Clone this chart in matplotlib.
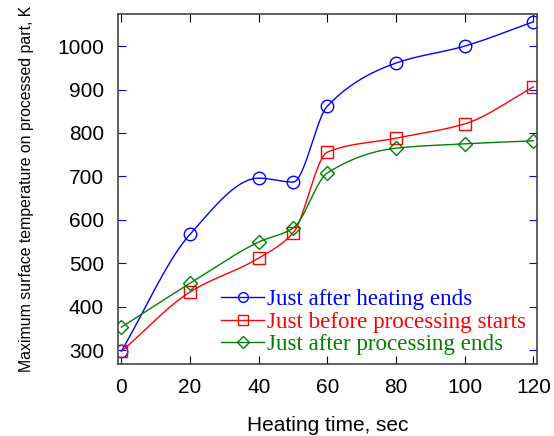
import numpy as np
import matplotlib
matplotlib.use("Agg")
import matplotlib.pyplot as plt

# heating time, sec
time = [0, 20, 40, 50, 60, 80, 100, 120]
after_heating = [298, 567, 696, 687, 862, 961, 1000, 1056]
before_processing = [297, 434, 512, 570, 756, 788, 821, 906]
after_processing = [353, 454, 549, 581, 708, 765, 775, 782]


def smooth(x, y, n=300):
    # monotone cubic (pchip) curve, only for drawing the line
    x = np.asarray(x, float)
    y = np.asarray(y, float)
    h = np.diff(x)
    d = np.diff(y) / h
    m = np.zeros_like(y)
    for i in range(1, len(x) - 1):
        if d[i - 1] * d[i] > 0:
            w1 = 2 * h[i] + h[i - 1]
            w2 = h[i] + 2 * h[i - 1]
            m[i] = (w1 + w2) / (w1 / d[i - 1] + w2 / d[i])
    m[0] = d[0]
    m[-1] = d[-1]
    xs = np.linspace(x[0], x[-1], n)
    j = np.clip(np.searchsorted(x, xs) - 1, 0, len(x) - 2)
    t = (xs - x[j]) / h[j]
    h00 = 2 * t**3 - 3 * t**2 + 1
    h10 = t**3 - 2 * t**2 + t
    h01 = -2 * t**3 + 3 * t**2
    h11 = t**3 - t**2
    ys = h00 * y[j] + h10 * h[j] * m[j] + h01 * y[j + 1] + h11 * h[j] * m[j + 1]
    return xs, ys


plt.rcParams["font.family"] = ["Liberation Sans", "DejaVu Sans"]

fig = plt.figure(figsize=(5.54, 4.36), dpi=100)
ax = fig.add_axes([0.213, 0.165, 0.756, 0.803])

series = [
    (after_heating, "blue", "o", "Just after heating ends"),
    (before_processing, "red", "s", "Just before processing starts"),
    (after_processing, "green", "D", "Just after processing ends"),
]
handles = []
for vals, c, m, lab in series:
    xs, ys = smooth(time, vals)
    ax.plot(xs, ys, color=c, lw=1)
    ax.plot(time, vals, ls="none", marker=m, mfc="none", mec=c,
            ms=7.5 if m == "D" else 9, mew=1)
    h, = ax.plot([], [], color=c, lw=1, marker=m, mfc="none", mec=c,
                 ms=6 if m == "D" else 7, mew=1, label=lab)
    handles.append(h)

ax.set_xlim(-1, 121)
ax.set_ylim(268, 1074)
ax.set_xticks([0, 20, 40, 60, 80, 100, 120])
ax.set_yticks([300, 400, 500, 600, 700, 800, 900, 1000])
ax.tick_params(axis="x", direction="in", length=6, top=True, labelsize=15, pad=10)
ax.tick_params(axis="y", direction="in", length=6, right=True, color="blue",
               labelsize=15, pad=10)
for s in ax.spines.values():
    s.set_color("#444444")
    s.set_linewidth(1.2)

ax.set_xlabel("Heating time, sec", fontsize=15, labelpad=14)
ax.set_ylabel("Maximum surface temperature on processed part, K", fontsize=11.4, labelpad=17)

leg = ax.legend(handles=handles, loc="lower right", bbox_to_anchor=(1.008, -0.015),
                frameon=False, prop={"family": "Liberation Serif", "size": 16.6},
                handlelength=1.85, handletextpad=0.15, labelspacing=0.07,
                borderaxespad=0.2)
for t, (_, c, _, _) in zip(leg.get_texts(), series):
    t.set_color(c)

fig.savefig("out.png", dpi=100)
